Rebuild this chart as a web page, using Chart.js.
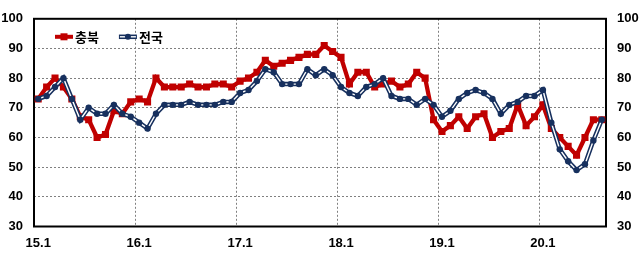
<!DOCTYPE html>
<html>
<head>
<meta charset="utf-8">
<script src="https://cdn.jsdelivr.net/npm/chart.js@4.4.0/dist/chart.umd.min.js"></script>
<style>
    html, body { margin: 0; padding: 0; background: #fff; }
    #wrap { width: 639px; height: 254px; }
</style>
</head>
<body>
<div id="wrap"><canvas id="bsiChart" width="639" height="254"></canvas></div>
<script>
// monthly index, 15.1 ~ 20.8
const months = [
    '15.1', '15.2', '15.3', '15.4', '15.5', '15.6', '15.7', '15.8', '15.9', '15.10', '15.11', '15.12',
    '16.1', '16.2', '16.3', '16.4', '16.5', '16.6', '16.7', '16.8', '16.9', '16.10', '16.11', '16.12',
    '17.1', '17.2', '17.3', '17.4', '17.5', '17.6', '17.7', '17.8', '17.9', '17.10', '17.11', '17.12',
    '18.1', '18.2', '18.3', '18.4', '18.5', '18.6', '18.7', '18.8', '18.9', '18.10', '18.11', '18.12',
    '19.1', '19.2', '19.3', '19.4', '19.5', '19.6', '19.7', '19.8', '19.9', '19.10', '19.11', '19.12',
    '20.1', '20.2', '20.3', '20.4', '20.5', '20.6', '20.7', '20.8'
];

const chungbuk = [
    73, 77, 80, 77, 73, 67, 66, 60, 61, 69, 68, 72,
    73, 72, 80, 77, 77, 77, 78, 77, 77, 78, 78, 77,
    79, 80, 82, 86, 84, 85, 86, 87, 88, 88, 91, 89,
    87, 78, 82, 82, 77, 78, 79, 77, 78, 82, 80, 66,
    62, 64, 67, 63, 67, 68, 60, 62, 63, 71, 64, 67,
    71, 63, 60, 57, 54, 60, 66, 66
];

const national = [
    73, 74, 77, 80, 73, 66, 70, 68, 68, 71, 68, 67,
    65, 63, 68, 71, 71, 71, 72, 71, 71, 71, 72, 72,
    75, 76, 79, 83, 82, 78, 78, 78, 83, 81, 83, 81,
    77, 75, 74, 77, 78, 80, 74, 73, 73, 71, 73, 71,
    67, 69, 73, 75, 76, 75, 73, 68, 71, 72, 74, 74,
    76, 65, 56, 52, 49, 51, 59, 66
];

const yMin = 30;
const yMax = 100;
const yStep = 10;
const monthsPerYear = 12;

const RED = '#C00000';
const NAVY = '#17305E';
const GRID = '#808080';
const tickFont = { family: '"Liberation Sans", Arial, sans-serif', size: 13, weight: 'bold' };

// dotted year separators + black box round the plot area
const framePlugin = {
    id: 'frame',
    beforeDatasetsDraw(chart) {
        const { ctx, chartArea: a } = chart;
        const xs = chart.scales.x;
        ctx.save();

        // year lines sit on the boundary before each January
        ctx.strokeStyle = GRID;
        ctx.lineWidth = 1;
        ctx.setLineDash([2, 2]);
        for (let i = monthsPerYear; i < months.length; i += monthsPerYear) {
            const px = Math.round((xs.getPixelForValue(i) + xs.getPixelForValue(i - 1)) / 2) + 0.5;
            ctx.beginPath();
            ctx.moveTo(px, a.top);
            ctx.lineTo(px, a.bottom);
            ctx.stroke();
        }

        ctx.setLineDash([]);
        ctx.strokeStyle = '#000';
        ctx.lineWidth = 2;
        ctx.strokeRect(a.left, a.top, a.right - a.left, a.bottom - a.top);
        ctx.restore();
    }
};

// legend inside the plot, line + marker like the original
const insideLegend = {
    id: 'insideLegend',
    afterDatasetsDraw(chart) {
        const { ctx, chartArea: a } = chart;
        const items = [
            { text: chart.data.datasets[2].label, kind: 'red' },
            { text: chart.data.datasets[0].label, kind: 'navy' }
        ];
        const y = a.top + 18;
        let x = a.left + 21;
        ctx.save();
        ctx.font = 'bold 13px "Noto Sans CJK KR", sans-serif';
        ctx.textBaseline = 'middle';
        items.forEach(item => {
            const len = 18;
            if (item.kind === 'red') {
                ctx.strokeStyle = RED;
                ctx.lineWidth = 4;
                ctx.beginPath(); ctx.moveTo(x, y); ctx.lineTo(x + len, y); ctx.stroke();
                ctx.fillStyle = RED;
                ctx.fillRect(x + len / 2 - 3.5, y - 3.5, 7, 7);
            } else {
                ctx.strokeStyle = NAVY;
                ctx.lineWidth = 4.5;
                ctx.beginPath(); ctx.moveTo(x, y); ctx.lineTo(x + len, y); ctx.stroke();
                ctx.strokeStyle = '#fff';
                ctx.lineWidth = 1.4;
                ctx.beginPath(); ctx.moveTo(x + 1, y); ctx.lineTo(x + len - 1, y); ctx.stroke();
                ctx.fillStyle = NAVY;
                ctx.beginPath(); ctx.arc(x + len / 2, y, 3, 0, Math.PI * 2); ctx.fill();
            }
            ctx.fillStyle = '#000';
            ctx.fillText(item.text, x + len + 2, y);
            x += len + 2 + ctx.measureText(item.text).width + 20;
        });
        ctx.restore();
    }
};

new Chart(document.getElementById('bsiChart'), {
    type: 'line',
    data: {
        labels: months,
        datasets: [
            {
                label: '전국',
                data: national,
                borderColor: '#fff',
                borderWidth: 1.4,
                pointStyle: 'circle',
                pointRadius: 3.2,
                pointBackgroundColor: NAVY,
                pointBorderWidth: 0,
                tension: 0
            },
            {
                label: '전국 외곽',
                data: national,
                borderColor: NAVY,
                borderWidth: 4.5,
                pointRadius: 0,
                tension: 0
            },
            {
                label: '충북',
                data: chungbuk,
                borderColor: RED,
                borderWidth: 4.3,
                pointStyle: 'rect',
                pointRadius: 5,
                pointBackgroundColor: RED,
                pointBorderWidth: 0,
                tension: 0
            }
        ]
    },
    options: {
        responsive: false,
        animation: false,
        events: [],
        layout: { padding: { top: 8.5, left: 0, right: 0, bottom: 0 } },
        plugins: {
            legend: { display: false },
            tooltip: { enabled: false }
        },
        scales: {
            x: {
                type: 'category',
                offset: true,
                grid: { display: false, drawTicks: false },
                border: { display: false },
                ticks: {
                    autoSkip: false,
                    maxRotation: 0,
                    padding: 9,
                    color: '#000',
                    font: tickFont,
                    callback: (value, index) => (index % monthsPerYear === 0 ? months[index] : '')
                },
                afterFit: scale => { scale.height = 27.5; }
            },
            y: {
                position: 'left',
                min: yMin,
                max: yMax,
                grid: {
                    drawTicks: false,
                    lineWidth: 1,
                    color: ctx => (ctx.tick.value === yMin || ctx.tick.value === yMax ? 'transparent' : GRID)
                },
                border: { display: false, dash: [2, 2] },
                ticks: { stepSize: yStep, padding: 11, color: '#000', font: tickFont },
                afterFit: scale => { scale.width = 34; }
            },
            y2: {
                position: 'right',
                min: yMin,
                max: yMax,
                grid: { display: false, drawTicks: false },
                border: { display: false },
                ticks: { stepSize: yStep, padding: 11, color: '#000', font: tickFont },
                afterFit: scale => { scale.width = 33; }
            }
        }
    },
    plugins: [framePlugin, insideLegend]
});
</script>
</body>
</html>
